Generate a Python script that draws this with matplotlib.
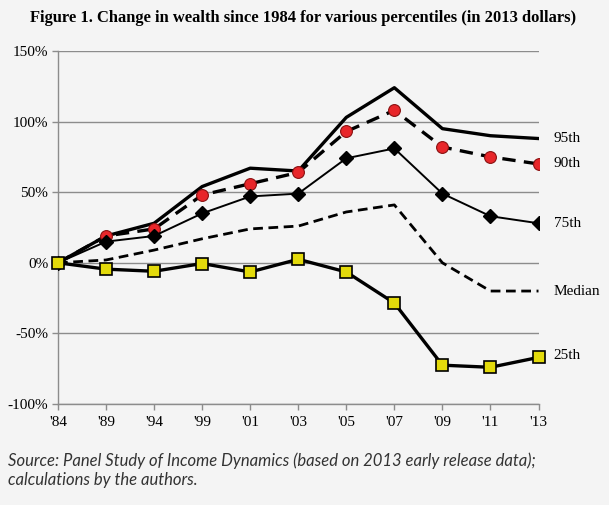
import matplotlib
matplotlib.use("Agg")
import matplotlib.pyplot as plt
import numpy as np

years = ["'84", "'89", "'94", "'99", "'01", "'03", "'05", "'07", "'09", "'11", "'13"]
p95 = [0, 19, 28, 54, 67, 65, 103, 124, 95, 90, 88]
p90 = [0, 19, 24, 48, 56, 64, 93, 108, 82, 75, 70]
p75 = [0, 15, 19, 35, 47, 49, 74, 81, 49, 33, 28]
median = [0, 2, 9, 17, 24, 26, 36, 41, 0, -20, -20]
p25 = [0, -4.5, -6, -0.5, -6.5, 2.5, -6.5, -28.5, -72.5, -74, -67]
series_labels = ["95th", "90th", "75th", "Median", "25th"]
yticks = [-100, -50, 0, 50, 100, 150]
ytick_labels = ["-100%", "-50%", "0%", "50%", "100%", "150%"]
title = "Figure 1. Change in wealth since 1984 for various percentiles (in 2013 dollars)"
source = "Source: Panel Study of Income Dynamics (based on 2013 early release data);\ncalculations by the authors."

bg = "#f4f4f4"
fig = plt.figure(figsize=(6.09, 5.05), dpi=100, facecolor=bg)
ax = fig.add_axes([58/609, 1-404/505, (538.5-58)/609, (404-51)/505], facecolor=bg)

x = np.arange(len(years))
serif = "Liberation Serif"

ax.plot(x, p95, color="black", lw=2.4, zorder=4)
ax.plot(x, p90, color="black", lw=2.4, ls=(0, (4, 2.5)), marker="o", ms=8.5,
        mfc="#e8262a", mec="#8a1010", mew=0.8, zorder=5)
ax.plot(x, p75, color="black", lw=1.4, marker="D", ms=7.5, mfc="black", mec="black", zorder=5)
ax.plot(x, median, color="black", lw=2.0, ls=(0, (3.5, 2)), zorder=4)
ax.plot(x, p25, color="black", lw=2.4, marker="s", ms=8.5, mfc="#e3da0b", mec="black", mew=1.2,
        zorder=6, clip_on=False)

ax.set_xlim(0, len(years) - 1)
ax.set_ylim(-100, 150)
ax.set_yticks(yticks)
ax.set_yticklabels(ytick_labels, fontfamily=serif, fontsize=11)
ax.set_xticks(x)
ax.set_xticklabels(years, fontfamily=serif, fontsize=11)
ax.yaxis.grid(True, color="#8c8c8c", lw=1.0)
ax.set_axisbelow(True)
for s in ["top", "right"]:
    ax.spines[s].set_visible(False)
for s in ["left", "bottom"]:
    ax.spines[s].set_color("#8c8c8c")
    ax.spines[s].set_linewidth(1.0)
ax.tick_params(axis="both", colors="#8c8c8c", length=4, width=1.0, labelcolor="black")
ax.tick_params(axis="x", pad=5)
ax.tick_params(axis="y", pad=3)

last = [p95[-1], p90[-1], p75[-1], median[-1], p25[-1]]
offs = [0, 0, 0, 0, 1]
for lab, v, o in zip(series_labels, last, offs):
    ax.annotate(lab, xy=(x[-1], v + o), xytext=(11, 0), textcoords="offset points",
                va="center", ha="left", fontfamily=serif, fontsize=11, annotation_clip=False)

fig.text(303/609, 1-18/505, title, ha="center", va="center", fontfamily=serif,
         fontweight="bold", fontsize=11.9)
fig.text(8/609, 1-470/505, source, ha="left", va="center", fontfamily="Lato",
         fontstyle="italic", fontsize=12, color="#333333", linespacing=1.2)

fig.savefig("out.png", dpi=100, facecolor=bg)
